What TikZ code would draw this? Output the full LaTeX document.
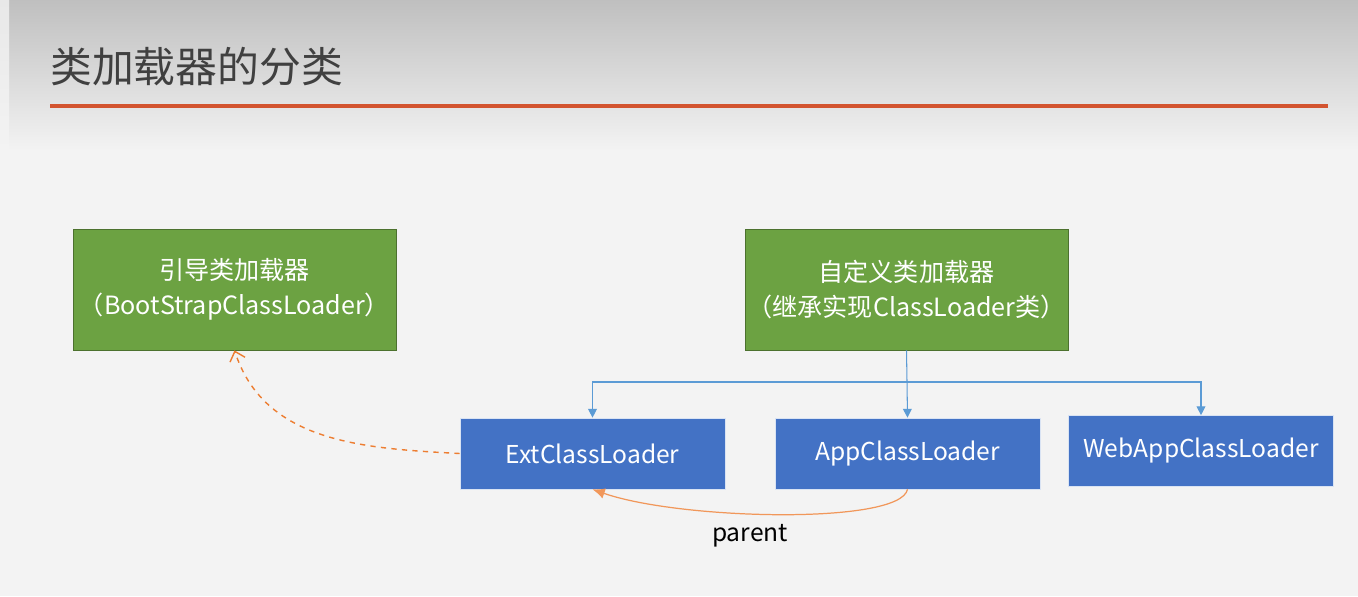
\documentclass[tikz,border=0pt]{standalone}
\usepackage{fontspec}
\setmainfont{Noto Sans CJK SC}
\usetikzlibrary{arrows.meta}
\definecolor{slidegray}{RGB}{243, 243, 243}
\definecolor{titlered}{RGB}{211, 84, 48}
\definecolor{loadergreen}{RGB}{108, 162, 66}
\definecolor{loaderblue}{RGB}{67, 114, 197}
\definecolor{linkblue}{RGB}{91, 155, 213}
\definecolor{parentorange}{RGB}{237, 125, 49}

\begin{document}
\begin{tikzpicture}[x=0.02cm, y=-0.02cm,
    greenbox/.style={draw=loadergreen!70!black, fill=loadergreen, text=white,
        minimum width=6.46cm, minimum height=2.42cm, align=center, inner sep=0pt,
        font=\fontsize{14.3}{20}\selectfont},
    bluebox/.style={draw=white!80!loaderblue, fill=loaderblue, text=white,
        minimum width=5.3cm, minimum height=1.42cm, inner sep=0pt,
        font=\fontsize{14}{16}\selectfont},
    link/.style={draw=linkblue, line width=0.6pt, -{Triangle[length=5pt, width=5pt]}}]
                % Slide background
                \useasboundingbox (0,0) rectangle (1358,596);
                \fill[slidegray] (0,0) rectangle (1358,596);
                \fill[top color=black!25, bottom color=slidegray] (0,0) rectangle (1358,150);
                \fill[top color=black!9, bottom color=slidegray] (0,0) rectangle (9,150);
                
                % Title
                \node[anchor=west, text=black!75, inner sep=0pt,
                    font=\fontsize{23.8}{28}\selectfont] (title) at (50,67) {类加载器的分类};
                \draw[titlered, line width=2.2pt] (50,106) -- (1328,106);
                
                % Green loaders
                \node[greenbox] (boot) at (234.5,289.5) {引导类加载器\\（BootStrapClassLoader）};
                \node[greenbox] (custom) at (906.5,289.5) {自定义类加载器\\（继承实现ClassLoader类）};
                
                % Blue loaders
                \node[bluebox] (ext) at (592.5,453.5) {ExtClassLoader};
                \node[bluebox] (app) at (907.5,453.5) {AppClassLoader};
                \node[bluebox] (webapp) at (1201,451) {WebAppClassLoader};
                
                % Links from custom loader
                \coordinate (split) at (907,382);
                \draw[linkblue, line width=0.6pt] (custom.south) -- (split);
                \draw[link] (split) -| (ext.north);
                \draw[link] (split) -- (app.north);
                \draw[link] (split) -| (webapp.north);
                
                % Parent links
                \draw[parentorange, line width=0.8pt, dashed, -{Straight Barb[length=5pt, width=9pt]}]
                    (ext.west) to[out=177, in=-72] (boot.south);
                \draw[parentorange!80, line width=0.7pt, -{Latex[length=7pt, width=6pt]}]
                    (app.south) .. controls (900,525) and (680,520) .. (ext.south);
                \node[font=\fontsize{14}{16}\selectfont] (parent) at (750,536) {parent};
            \end{tikzpicture}
\end{document}
